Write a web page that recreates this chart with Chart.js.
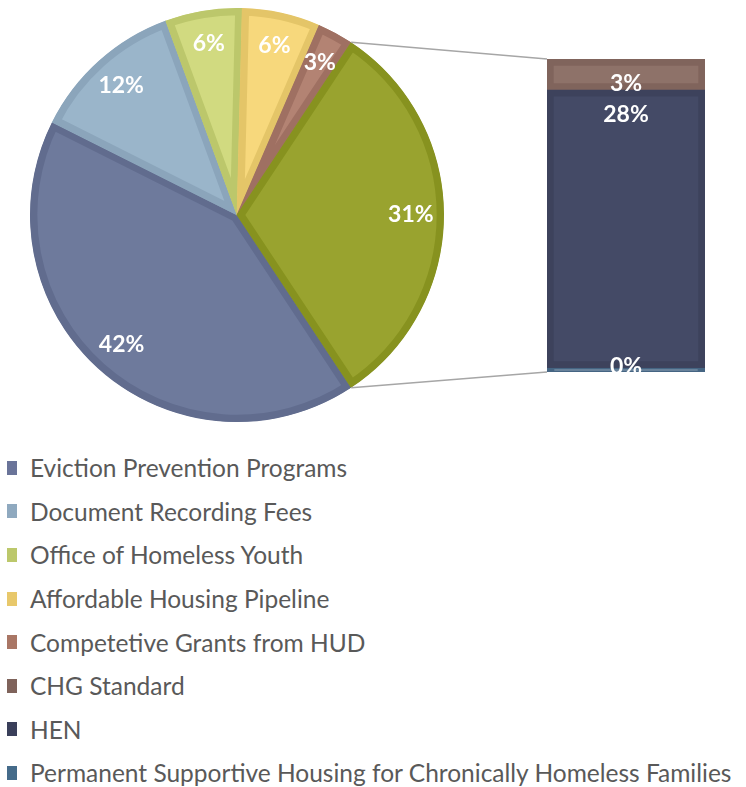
<!DOCTYPE html>
<html>
<head>
<meta charset="utf-8">
<script src="https://cdn.jsdelivr.net/npm/chart.js@4.4.1/dist/chart.umd.min.js"></script>
<style>
  body { margin: 0; background: #fff; width: 746px; height: 787px; position: relative; overflow: hidden; font-family: Lato, sans-serif; }
  #pie { position: absolute; left: 0; top: 0; }
  #bar { position: absolute; left: 547px; top: 59px; }
  #legend { position: absolute; left: 7px; top: 446px; margin: 0; padding: 0; list-style: none; }
  #legend li { height: 43.6px; display: flex; align-items: center; font-size: 24.5px; color: #595959; white-space: nowrap; }
  #legend span { display: inline-block; width: 10px; height: 14px; margin-right: 13px; }
</style>
</head>
<body>
<canvas id="pie" width="746" height="430"></canvas>
<canvas id="bar" width="158" height="313"></canvas>
<ul id="legend"></ul>
<script>
// main pie slices
const pieLabels = ["Eviction Prevention Programs", "Document Recording Fees", "Office of Homeless Youth",
  "Affordable Housing Pipeline", "Competetive Grants from HUD"];
const pieValues = [41.7, 12.0, 6.0, 6.1, 2.8];

// split-out bar (top to bottom)
const barLabels = ["CHG Standard", "HEN", "Permanent Supportive Housing for Chronically Homeless Families"];
const barValues = [3.1, 27.9, 0.4];

const pieFill = ["#6e7a9c", "#9ab5ca", "#d1da80", "#f7d87c", "#b38373"];
const pieEdge = ["#616c8e", "#8ba5bb", "#bcc76b", "#e4c568", "#9f7062"];
const otherFill = "#99a32f";
const otherEdge = "#87921f";
const barFill = ["#8e7269", "#444a66", "#4a6a8a"];
const barEdge = ["#80645c", "#3d425c", "#456583"];
const legendColors = ["#6a7499", "#8fa9bf", "#bcc86b", "#e8c86b", "#a97665", "#7f635b", "#3a3f5a", "#456b8a"];

const otherValue = barValues.reduce((a, b) => a + b, 0);
const total = pieValues.reduce((a, b) => a + b, 0) + otherValue;
const pct = (v) => Math.round(v / total * 100) + "%";

// bar drawn first so the pie can hook its connector lines onto it
const barText = {
  id: "barText",
  afterDatasetsDraw(chart) {
    const ctx = chart.ctx;
    const bottom = chart.chartArea.bottom;
    ctx.save();
    ctx.fillStyle = "#fff";
    ctx.font = "bold 23px Lato";
    ctx.textAlign = "center";
    ctx.textBaseline = "middle";
    chart.data.datasets.forEach((ds, i) => {
      const el = chart.getDatasetMeta(i).data[0];
      ctx.fillText(pct(ds.data[0]), el.x, Math.min(el.y + 25, bottom - 5));
    });
    ctx.restore();
  },
};

const barChart = new Chart(document.getElementById("bar"), {
  type: "bar",
  data: {
    labels: [""],
    datasets: barLabels.map((l, i) => ({
      label: l,
      data: [barValues[i]],
      backgroundColor: barFill[i],
      borderColor: barEdge[i],
      borderWidth: 7,
      borderSkipped: false,
      barPercentage: 1,
      categoryPercentage: 1,
    })).reverse(),
  },
  options: {
    responsive: false,
    animation: false,
    layout: { padding: 0 },
    scales: {
      x: { stacked: true, display: false },
      y: { stacked: true, display: false, min: 0, max: otherValue },
    },
    plugins: { legend: { display: false }, tooltip: { enabled: false } },
  },
  plugins: [barText],
});

const pieText = {
  id: "pieText",
  afterDatasetsDraw(chart) {
    const ctx = chart.ctx;
    const arcs = chart.getDatasetMeta(0).data;
    const values = chart.data.datasets[0].data;
    ctx.save();
    ctx.fillStyle = "#fff";
    ctx.font = "bold 23px Lato";
    ctx.textAlign = "center";
    ctx.textBaseline = "middle";
    arcs.forEach((arc, i) => {
      const a = (arc.startAngle + arc.endAngle) / 2;
      const r = arc.outerRadius * 0.84;
      ctx.fillText(pct(values[i]), arc.x + Math.cos(a) * r, arc.y + Math.sin(a) * r);
    });

    // connector lines from the "other" slice to the bar
    const other = arcs[arcs.length - 1];
    const canvas = barChart.canvas;
    const topEl = barChart.getDatasetMeta(barChart.data.datasets.length - 1).data[0];
    const botEl = barChart.getDatasetMeta(0).data[0];
    const bx = canvas.offsetLeft + topEl.x - topEl.width / 2;
    const by1 = canvas.offsetTop + topEl.y;
    const by2 = canvas.offsetTop + botEl.base;
    ctx.strokeStyle = "#a6a6a6";
    ctx.lineWidth = 1.5;
    ctx.beginPath();
    ctx.moveTo(other.x + Math.cos(other.startAngle) * other.outerRadius, other.y + Math.sin(other.startAngle) * other.outerRadius);
    ctx.lineTo(bx, by1);
    ctx.moveTo(other.x + Math.cos(other.endAngle) * other.outerRadius, other.y + Math.sin(other.endAngle) * other.outerRadius);
    ctx.lineTo(bx, by2);
    ctx.stroke();
    ctx.restore();
  },
};

new Chart(document.getElementById("pie"), {
  type: "pie",
  data: {
    labels: pieLabels.concat(["Other"]),
    datasets: [{
      data: pieValues.concat([otherValue]),
      backgroundColor: pieFill.concat([otherFill]),
      borderColor: pieEdge.concat([otherEdge]),
      borderWidth: 7,
      borderAlign: "inner",
    }],
  },
  options: {
    responsive: false,
    animation: false,
    // centre the "other" slice on the right-hand side, like Excel's pie of bar
    rotation: 90 + otherValue / total * 180,
    layout: { padding: { left: 8, top: 8, bottom: 8, right: 280 } },
    plugins: { legend: { display: false }, tooltip: { enabled: false } },
  },
  plugins: [pieText],
});

// legend
const legend = document.getElementById("legend");
pieLabels.concat(barLabels).forEach((l, i) => {
  const li = document.createElement("li");
  const sw = document.createElement("span");
  sw.style.background = legendColors[i];
  li.appendChild(sw);
  li.appendChild(document.createTextNode(l));
  legend.appendChild(li);
});
</script>
</body>
</html>
